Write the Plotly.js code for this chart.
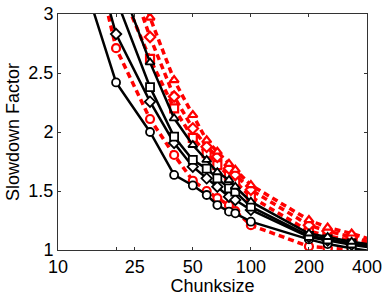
<!DOCTYPE html>
<html><head><meta charset="utf-8">
<script src="https://cdn.plot.ly/plotly-3.0.1.min.js"></script>
<style>html,body{margin:0;padding:0;background:#fff}#chart{width:388px;height:296px}</style>
</head><body><div id="chart"></div>
<script>
const chunksize = [10, 20, 30, 40, 50, 59, 67, 77, 83, 100, 200, 250, 333, 500];
const blackCircle   = [3.97, 2.42, 2.0, 1.636, 1.547, 1.466, 1.381, 1.325, 1.311, 1.24, 1.09, 1.05, 1.015, 0.97];
const blackDiamond  = [4.6, 2.83, 2.257, 1.907, 1.706, 1.607, 1.536, 1.452, 1.424, 1.34, 1.11, 1.08, 1.045, 1.0];
const blackSquare   = [4.8, 3.13, 2.38, 1.96, 1.763, 1.69, 1.607, 1.523, 1.494, 1.367, 1.12, 1.09, 1.055, 1.01];
const blackTriangle = [5.0, 3.36, 2.59, 2.116, 1.89, 1.763, 1.66, 1.593, 1.536, 1.41, 1.14, 1.11, 1.07, 1.025];
const redCircle     = [4.8, 2.71, 2.11, 1.805, 1.587, 1.5, 1.44, 1.38, 1.33, 1.21, 1.03, 1.015, 1.0, 0.96];
const redSquare     = [5.0, 3.3, 2.62, 2.2, 1.95, 1.82, 1.72, 1.63, 1.58, 1.45, 1.16, 1.12, 1.08, 1.02];
const redDiamond    = [5.5, 3.63, 2.805, 2.30, 2.03, 1.875, 1.79, 1.69, 1.636, 1.51, 1.21, 1.16, 1.11, 1.03];
const redTriangle   = [5.8, 3.85, 2.97, 2.44, 2.144, 1.93, 1.833, 1.73, 1.68, 1.55, 1.254, 1.19, 1.14, 1.05];
const xTickVals = [10, 20, 25, 50, 100, 200, 400];
const xTickText = ['10', '', '25', '50', '100', '200', '400'];
const yTickVals = [1, 1.5, 2, 2.5, 3];
const yTickText = ['1', '1.5', '2', '2.5', '3'];

function red(y, sym){
  return {x: chunksize, y: y, type:'scatter', mode:'lines+markers', cliponaxis:true,
    line:{color:'#ff0000', width:3.5, dash:'6px,4px'},
    marker:{symbol:sym, size:8, color:'#ffffff', line:{color:'#ff0000', width:2.2}}};
}
function black(y, sym){
  return {x: chunksize, y: y, type:'scatter', mode:'lines+markers', cliponaxis:true,
    line:{color:'#000000', width:2.5},
    marker:{symbol:sym, size:8, color:'#ffffff', line:{color:'#000000', width:1.8}}};
}
const data = [
  red(redCircle,'circle'), red(redSquare,'square'), red(redDiamond,'diamond'), red(redTriangle,'triangle-up'),
  black(blackCircle,'circle'), black(blackDiamond,'diamond'), black(blackSquare,'square'), black(blackTriangle,'triangle-up')
];
const font = {family:'Liberation Sans, Arial, sans-serif', size:18, color:'#000'};
const layout = {
  width:388, height:296, showlegend:false,
  margin:{l:58, r:21, t:14, b:46},
  paper_bgcolor:'#fff', plot_bgcolor:'#fff', font: font,
  xaxis:{type:'log', range:[1, Math.log10(400)], tickvals:xTickVals, ticktext:xTickText,
    ticks:'inside', ticklen:3, tickcolor:'#333', showline:true, linecolor:'#333', linewidth:1, mirror:'ticks',
    showgrid:false, zeroline:false, tickfont:font,
    title:{text:'Chunksize', font:font, standoff:0}},
  yaxis:{range:[1,3], tickvals:yTickVals, ticktext:yTickText,
    ticks:'inside', ticklen:3, tickcolor:'#333', showline:true, linecolor:'#333', linewidth:1, mirror:'ticks',
    showgrid:false, zeroline:false, tickfont:font,
    title:{text:'Slowdown Factor', font:font, standoff:4}}
};
Plotly.newPlot('chart', data, layout, {staticPlot:true, displayModeBar:false});
</script></body></html>
